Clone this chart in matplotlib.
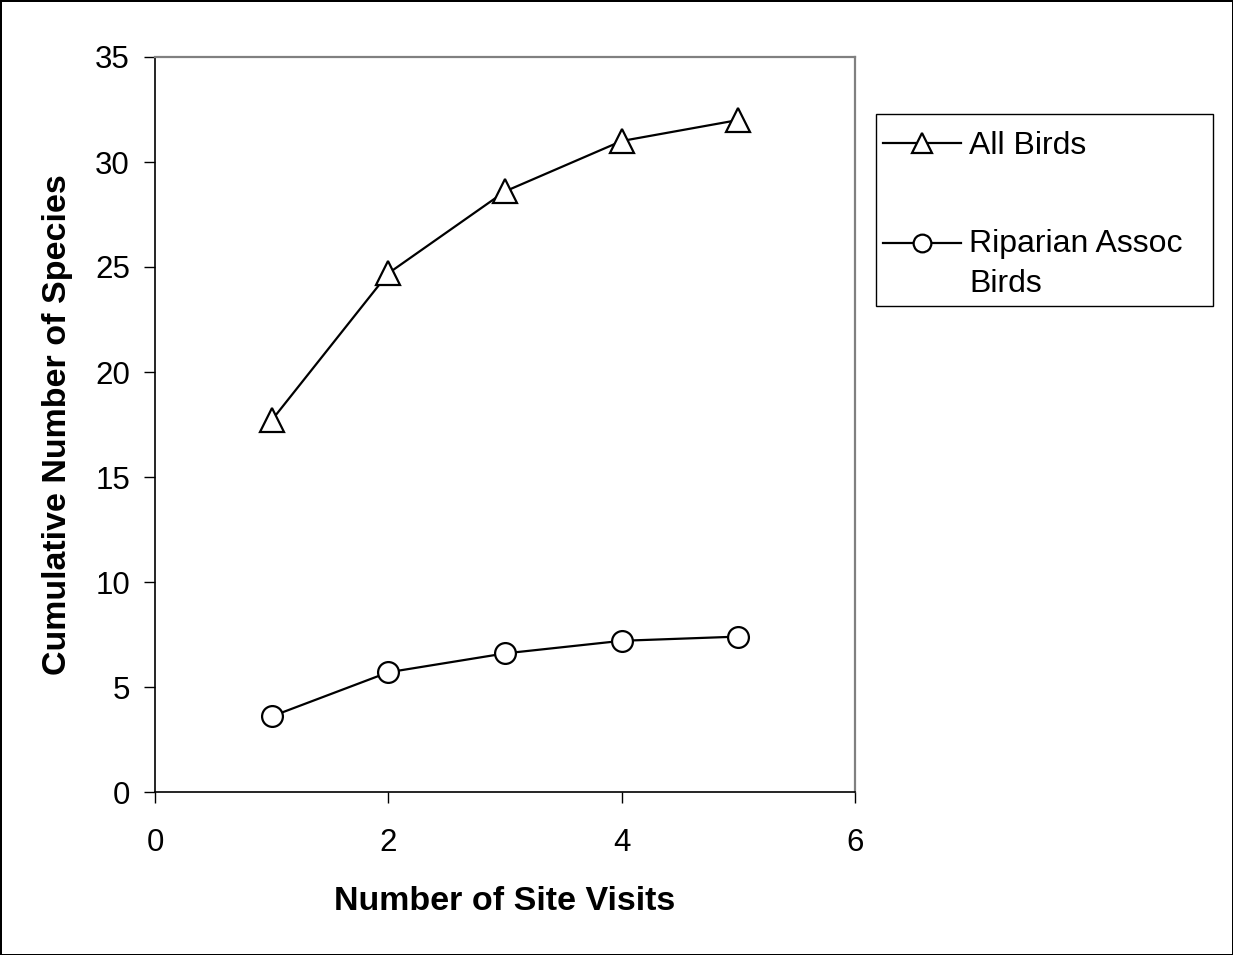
import matplotlib
matplotlib.use("Agg")
import matplotlib.pyplot as plt
from matplotlib.legend_handler import HandlerLine2D

# ---- data ----
site_visits = [1, 2, 3, 4, 5]
all_birds = [17.7, 24.7, 28.6, 31.0, 32.0]
riparian_birds = [3.6, 5.7, 6.6, 7.2, 7.4]
series_labels = ["All Birds", "Riparian Assoc\nBirds"]
x_ticks = [0, 2, 4, 6]
y_ticks = [0, 5, 10, 15, 20, 25, 30, 35]
x_label = "Number of Site Visits"
y_label = "Cumulative Number of Species"

plt.rcParams['font.family'] = ['Liberation Sans', 'DejaVu Sans']

W, H = 1233, 955
fig = plt.figure(figsize=(W / 100, H / 100), dpi=100)
fig.patch.set_facecolor('white')
fig.patch.set_edgecolor('black')
fig.patch.set_linewidth(2)

ax = fig.add_axes([155 / W, 1 - 792 / H, 700 / W, 735 / H])

l1, = ax.plot(site_visits, all_birds, color='black', lw=1.6, marker='^',
              markersize=17.5, markerfacecolor='white', markeredgecolor='black',
              markeredgewidth=1.6, label=series_labels[0], clip_on=False, zorder=3)
l2, = ax.plot(site_visits, riparian_birds, color='black', lw=1.6, marker='o',
              markersize=15, markerfacecolor='white', markeredgecolor='black',
              markeredgewidth=1.6, label=series_labels[1], clip_on=False, zorder=3)

ax.set_xlim(0, 6)
ax.set_ylim(0, 35)
ax.set_xticks(x_ticks)
ax.set_yticks(y_ticks)
ax.tick_params(axis='both', direction='out', length=8, width=1, color='black',
               labelsize=22.5, labelcolor='black')
ax.tick_params(axis='x', pad=18)
ax.tick_params(axis='y', pad=10)

for s in ['top', 'right']:
    ax.spines[s].set_color('#808080')
    ax.spines[s].set_linewidth(1.6)
for s in ['left', 'bottom']:
    ax.spines[s].set_color('black')
    ax.spines[s].set_linewidth(1.2)

ax.set_xlabel(x_label, fontsize=24.5, fontweight='bold', labelpad=20)
ax.set_ylabel(y_label, fontsize=24.5, fontweight='bold', labelpad=16)


class ShiftedHandler(HandlerLine2D):
    def __init__(self, dy=0.0, **kw):
        super().__init__(**kw)
        self.dy = dy

    def create_artists(self, legend, orig_handle, xdescent, ydescent, width,
                       height, fontsize, trans):
        arts = super().create_artists(legend, orig_handle, xdescent, ydescent,
                                      width, height, fontsize, trans)
        for a in arts:
            a.set_ydata([y + self.dy for y in a.get_ydata()])
        return arts


leg = fig.legend(handles=[l1, l2], labels=series_labels,
                 loc='upper left',
                 bbox_to_anchor=(876 / W, 1 - 114 / H, 337 / W, 0),
                 bbox_transform=fig.transFigure, mode='expand',
                 borderaxespad=0, fontsize=23, frameon=True, fancybox=False,
                 edgecolor='black', framealpha=1, borderpad=0.23,
                 labelspacing=1.98, handlelength=2.44, handletextpad=0.25,
                 handleheight=1.75, markerscale=0.85, numpoints=1,
                 handler_map={l1: ShiftedHandler(dy=-3.9),
                              l2: ShiftedHandler(dy=11.5)})
leg.get_frame().set_linewidth(1.0)
for t in leg.get_texts():
    t.set_linespacing(1.45)

fig.savefig('out.png', dpi=100, facecolor=fig.get_facecolor(), edgecolor=fig.get_edgecolor())
